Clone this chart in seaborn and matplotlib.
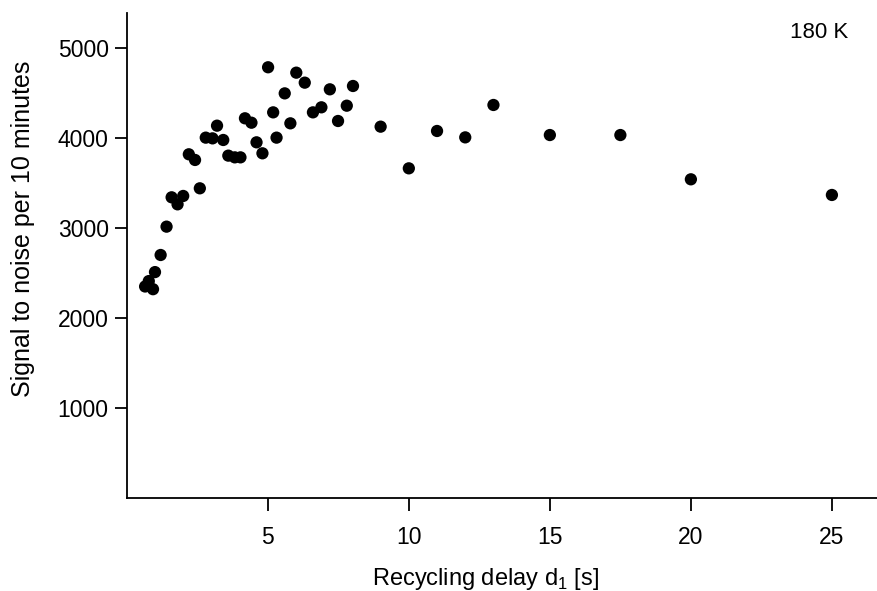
import matplotlib
matplotlib.use("Agg")
import matplotlib.pyplot as plt
import seaborn as sns
import pandas as pd

# Data
delay_s = [0.65, 0.78, 0.93, 1.0, 1.2, 1.41, 1.59, 1.8, 2.0, 2.2, 2.42, 2.59,
           2.8, 3.04, 3.2, 3.42, 3.6, 3.83, 4.03, 4.19, 4.42, 4.6, 4.81,
           5.01, 5.19, 5.31, 5.6, 5.8, 6.01, 6.31, 6.6, 6.9, 7.2, 7.49, 7.8, 8.02,
           9.0, 10.0, 11.0, 12.0, 13.0, 15.0, 17.5, 20.0, 25.0]
snr = [2350, 2410, 2320, 2510, 2700, 3015, 3341, 3263, 3356, 3819, 3756, 3441,
       4004, 3996, 4137, 3978, 3804, 3785, 3785, 4219, 4170, 3952, 3830,
       4786, 4285, 4004, 4496, 4163, 4726, 4615, 4285, 4341, 4541, 4189, 4359, 4578,
       4126, 3663, 4078, 4007, 4367, 4033, 4033, 3541, 3367]
x_ticks = [5, 10, 15, 20, 25]
y_ticks = [1000, 2000, 3000, 4000, 5000]
annotation = "180 K"

df = pd.DataFrame({"delay": delay_s, "snr": snr})

sns.set_theme(style="ticks")
plt.rcParams["font.family"] = ["Liberation Sans", "DejaVu Sans"]
plt.rcParams["mathtext.fontset"] = "custom"
plt.rcParams["mathtext.rm"] = "Liberation Sans"

fig = plt.figure(figsize=(8.78, 5.91), dpi=100)
ax = fig.add_axes([0.1444, 0.1574, 0.8545, 0.8206])

sns.scatterplot(data=df, x="delay", y="snr", ax=ax, color="black",
                s=78, edgecolor="none", linewidth=0)

ax.set_xlim(0, 26.6)
ax.set_ylim(0, 5389)
ax.set_xticks(x_ticks)
ax.set_yticks(y_ticks)

for side in ["top", "right"]:
    ax.spines[side].set_visible(False)
for side in ["left", "bottom"]:
    ax.spines[side].set_linewidth(1.3)
    ax.spines[side].set_color("black")

ax.tick_params(axis="both", direction="out", length=9, width=1.3,
               colors="black", labelsize=16.5)
ax.tick_params(axis="x", pad=11)
ax.tick_params(axis="y", pad=4)

ax.set_xlabel("Recycling delay d$_\\mathrm{1}$ [s]", fontsize=17, color="black")
ax.set_ylabel("Signal to noise per 10 minutes", fontsize=18, color="black")
ax.xaxis.set_label_coords(0.478, -0.14)
ax.yaxis.set_label_coords(-0.122, 0.555)

ax.text(0.961, 0.959, annotation, transform=ax.transAxes, ha="right",
        va="center", fontsize=16, color="black")

fig.savefig("out.png", dpi=100)
